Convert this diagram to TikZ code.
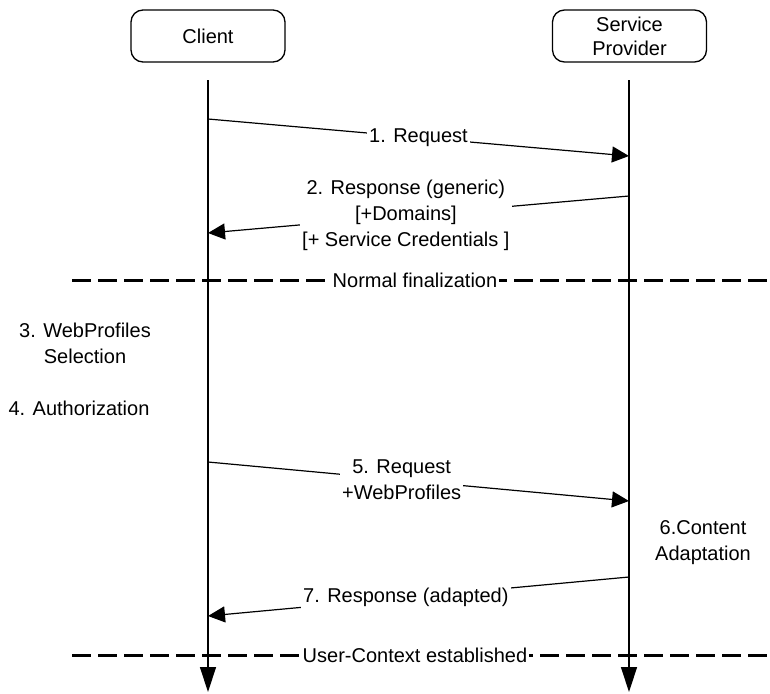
\documentclass[tikz,border=0pt]{standalone}
\usepackage{fontspec}
\setmainfont{Liberation Sans}
\usetikzlibrary{arrows.meta}

\begin{document}
\begin{tikzpicture}[x=1pt,y=-1pt,
  party/.style={draw, line width=1.3pt, rounded corners=12pt, minimum width=154pt, minimum height=52pt, align=center, font=\fontsize{20}{24}\selectfont},
  txt/.style={align=center, font=\fontsize{20}{26}\selectfont, inner sep=2pt},
  lbl/.style={txt, fill=white},
  msg/.style={-{Triangle[length=17pt,width=16pt]}, line width=1.2pt},
  life/.style={-{Triangle[length=25pt,width=16pt]}, line width=1.3pt},
  phase/.style={line width=3pt, dash pattern=on 19pt off 7pt}]
\useasboundingbox (0,0) rectangle (770,693);
% parties and lifelines
\node[party] (client) at (208,36) {Client};
\node[party] (sp) at (629.5,36) {Service\\Provider};
\coordinate (ctop) at (208,80);  \coordinate (cend) at (208,692);
\coordinate (stop) at (629,80);  \coordinate (send) at (629,692);
\draw[life] (ctop) -- (cend);
\draw[life] (stop) -- (send);
% messages
\coordinate (c1) at (208,119); \coordinate (s1) at (629,156);
\coordinate (s2) at (629,196); \coordinate (c2) at (208,233);
\coordinate (c5) at (208,462); \coordinate (s5) at (629,501);
\coordinate (s7) at (629,577); \coordinate (c7) at (208,616);
\draw[msg] (c1) -- node[lbl] {1. Request} (s1);
\draw[msg] (s2) -- node[lbl, pos=0.53] {2. Response (generic)\\{}[+Domains]\\{}[+ Service Credentials ]} (c2);
\draw[msg] (c5) -- node[lbl, pos=0.46] {5. Request\\+WebProfiles} (s5);
\draw[msg] (s7) -- node[lbl, pos=0.53] {7. Response (adapted)} (c7);
% phases
\coordinate (n1) at (72,280);  \coordinate (n2) at (770,280);
\coordinate (u1) at (72,655);  \coordinate (u2) at (770,655);
\draw[phase] (n1) -- (n2);
\draw[phase] (u1) -- (u2);
\node[lbl] (normal) at (415,280) {Normal finalization};
\node[lbl] (userctx) at (415,655) {User-Context established};
% local steps
\node[txt] (sel) at (85,343) {3. WebProfiles\\Selection};
\node[txt] (auth) at (79,408) {4. Authorization};
\node[txt] (adapt) at (703,543) {6.Content\\Adaptation};
\end{tikzpicture}
\end{document}
